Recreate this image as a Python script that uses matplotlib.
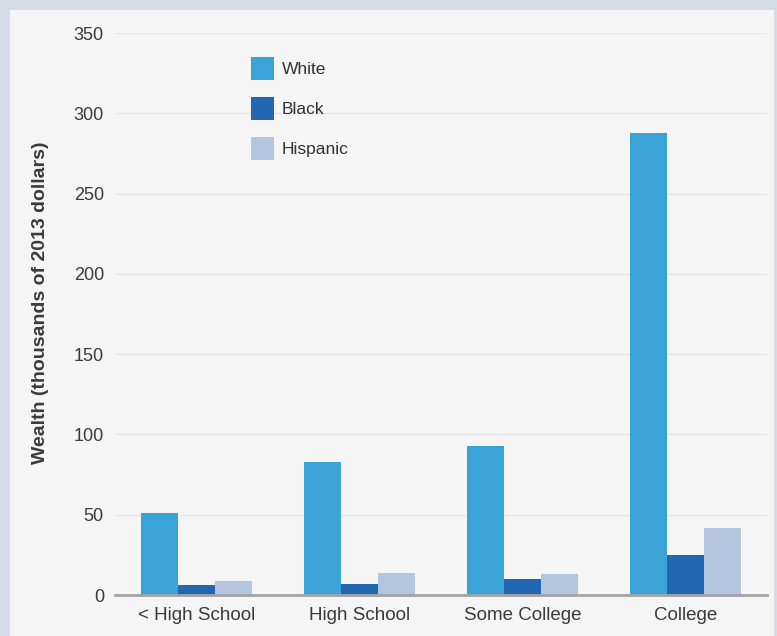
import numpy as np
import matplotlib.pyplot as plt
from matplotlib.patches import Rectangle, Patch

plt.rcParams['font.family'] = ['Liberation Sans', 'DejaVu Sans']

# median wealth by education, thousands of 2013 dollars
education = ['< High School', 'High School', 'Some College', 'College']
white = [51, 83, 93, 288]
black = [6, 7, 10, 25]
hispanic = [8.5, 14, 13, 41.5]
groups = ['White', 'Black', 'Hispanic']

colors = ['#3aa4d8', '#2167b1', '#b3c5df']

fig = plt.figure(figsize=(7.77, 6.36), dpi=100, facecolor='#d5dce8')
# light panel behind the chart, framed by the blue-gray border
fig.patches.append(Rectangle((10 / 777, 0), 764 / 777, 626 / 636,
                             transform=fig.transFigure, facecolor='#f5f5f6',
                             edgecolor='none', zorder=-10))

ax = fig.add_axes([115 / 777, 1 - 595 / 636, 652 / 777, 562 / 636])
ax.set_facecolor('none')

x = np.arange(len(education))
w = 0.225
for i, (vals, c) in enumerate(zip([white, black, hispanic], colors)):
    ax.bar(x + (i - 1) * w, vals, width=w, color=c, zorder=3)

ax.set_xlim(-0.5, 3.5)
ax.set_ylim(0, 350)
ax.set_yticks(np.arange(0, 351, 50))
ax.set_xticks(x)
ax.set_xticklabels(education)
ax.grid(axis='y', color='#e6e6e6', linewidth=1.0, zorder=0)
ax.set_axisbelow(True)

for side in ['top', 'right', 'left']:
    ax.spines[side].set_visible(False)
ax.spines['bottom'].set_color('#a3a3a3')
ax.spines['bottom'].set_linewidth(2)
ax.spines['bottom'].set_zorder(4)

ax.tick_params(axis='both', length=0, labelcolor='#3a3a3a')
ax.tick_params(axis='y', pad=8, labelsize=13)
ax.tick_params(axis='x', pad=9, labelsize=13.5)

ax.set_ylabel('Wealth (thousands of 2013 dollars)', fontsize=14,
              fontweight='bold', color='#3a3a3a')
ax.yaxis.set_label_coords(-0.101, 0.52)

handles = [Patch(facecolor=c, edgecolor='none') for c in colors]
ax.legend(handles, groups, loc='upper left', bbox_to_anchor=(0.209, 0.957),
          frameon=False, fontsize=12.5, handlelength=1.3, handleheight=1.66,
          labelspacing=0.98, handletextpad=0.45, borderpad=0, borderaxespad=0,
          labelcolor='#333333')

fig.savefig('out.png', dpi=100, facecolor=fig.get_facecolor())
